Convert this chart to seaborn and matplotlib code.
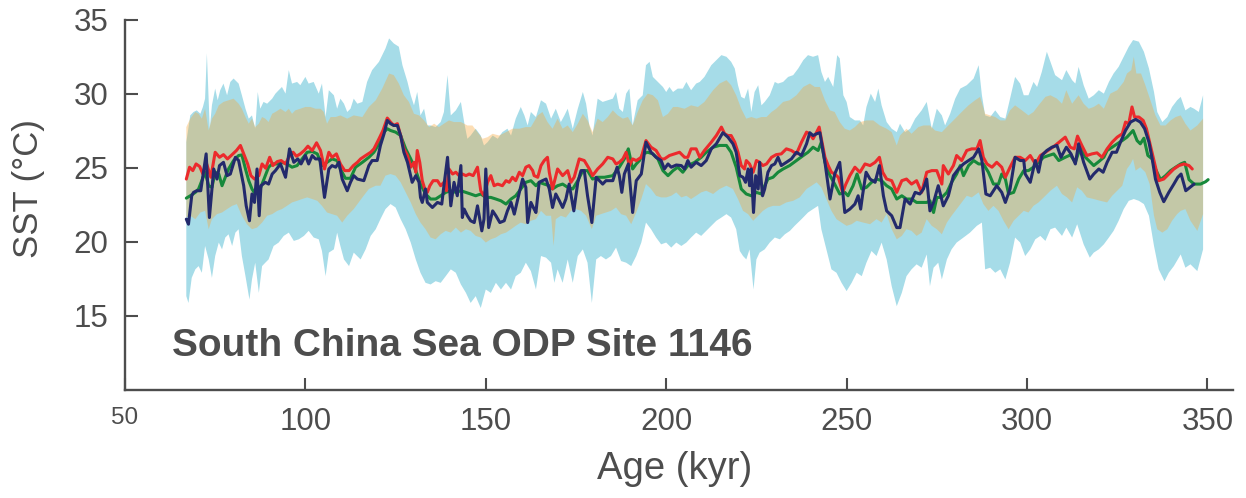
import numpy as np
import pandas as pd
import matplotlib
matplotlib.use("Agg")
import matplotlib.pyplot as plt
import seaborn as sns

# ---------------- data ----------------
red_age = [67.0, 67.9, 68.8, 69.7, 70.7, 71.6, 72.5, 73.8, 75.0, 76.2, 77.3, 78.4, 79.7, 80.9, 82.0, 83.1, 84.0, 84.9, 85.9, 87.1,
           88.0, 89.0, 90.1, 91.0, 92.2, 93.3, 94.5, 95.4, 96.6, 97.5, 98.6, 99.7, 100.7, 101.9, 103.1, 104.2, 105.3, 106.5, 107.4, 108.6,
           109.7, 110.9, 112.1, 113.3, 114.4,
           115.3, 116.7, 118.1, 119.0, 120.4, 121.5, 122.7, 123.6, 124.5, 125.5, 126.4, 127.3, 128.3, 129.2, 130.1, 130.6, 131.0, 131.7,
           132.4, 133.1, 133.8, 134.5, 135.4, 136.6, 137.5, 138.4, 139.1, 139.8, 140.8, 141.7, 142.6, 143.5, 144.5, 145.4, 146.5, 147.7,
           148.6, 149.5, 150.5, 151.4, 152.3, 153.3, 154.6, 155.6, 156.5, 157.4, 158.3, 159.3, 160.2, 161.1, 162.0, 163.0,
           163.4, 164.4, 165.3, 166.2, 167.1, 167.6, 168.5, 169.9, 171.3, 172.7, 173.6, 174.5, 175.9, 177.3, 178.7, 179.6, 181.0, 182.4,
           183.8, 185.2, 186.1, 187.0, 188.0, 188.9, 189.8, 190.7, 191.7, 193.1, 194.4, 195.8, 197.2, 198.6, 199.5, 200.9, 202.3, 203.7,
           205.1, 206.0, 206.9, 208.3, 209.3, 210.6,
           212.5, 213.9, 215.3, 216.2, 217.1, 218.0, 219.0, 219.9, 220.8, 221.7, 222.2, 223.1, 224.1, 225.0, 225.9, 226.8, 227.8, 229.2,
           230.5, 231.9, 233.3, 234.7, 236.1, 237.5, 238.9, 239.8, 240.7, 241.7, 242.4, 243.0, 244.0, 244.9, 245.8, 246.7, 247.7, 248.9,
           249.8, 250.9, 252.3, 253.7, 255.1, 256.5, 257.9, 259.1, 260.0,
           261.1, 262.5, 263.9, 265.3, 266.6, 268.0, 269.4, 270.8, 272.2, 273.6, 275.0, 276.4, 276.8, 278.2, 279.6, 280.5, 281.9, 283.3,
           284.7, 286.1, 287.0, 287.9, 288.9, 290.3, 291.6, 293.0, 294.0, 295.3, 296.7, 298.1, 299.5, 300.9, 302.3, 303.7, 305.1, 306.5,
           307.8,
           310.6, 312.0, 313.1, 314.0, 315.2, 316.6, 318.0, 319.4, 320.8, 322.2, 323.6, 325.0, 326.4, 327.3, 328.2, 329.1, 329.8, 331.0,
           332.2, 333.1, 334.2, 335.3, 336.5, 337.9, 339.3, 340.7, 342.1, 343.5, 344.9, 345.8]
red_sst = [24.25, 25.05, 24.82, 25.27, 25.1, 24.59, 25.38, 24.37, 26.06, 25.72, 25.9, 25.61, 25.9, 26.18, 26.52, 25.84, 25.27, 24.48, 24.25, 24.48,
           25.27, 24.98, 25.72, 25.16, 25.43, 25.5, 25.27, 25.72, 26.06, 25.79, 25.95, 26.18, 26.47, 26.18, 26.7, 26.18, 24.93, 26.06, 25.72, 25.95,
           25.27, 24.82, 24.82, 25.16, 25.38,
           25.61, 25.84, 26.06, 26.29, 26.97, 27.53, 28.37, 28.1, 27.87, 27.99, 27.19, 26.29, 25.84, 25.05, 25.38, 24.71, 26.18, 25.38,
           24.14, 23.58, 23.35, 23.8, 24.14, 24.14, 23.8, 24.03, 23.46, 24.93, 24.59, 24.71, 24.48, 24.59, 24.48, 24.59, 24.48, 25.05,
           23.46, 23.12, 24.03, 24.48, 23.8, 23.91, 23.8, 24.14, 24.03, 24.37, 24.14, 24.71, 24.48, 25.05, 25.16, 24.82,
           24.48, 24.37, 25.16, 25.5, 25.72, 24.71, 23.58, 24.93, 24.48, 24.82, 24.03, 24.37, 25.61, 25.5, 24.93, 24.48, 24.93, 25.27,
           25.72, 25.61, 25.27, 25.38, 25.61, 26.06, 25.16, 25.61, 25.5, 25.72, 26.85, 26.4, 26.18, 25.61, 25.61, 25.84, 25.95, 26.06,
           25.72, 25.72, 26.29, 26.29, 25.72, 26.18,
           26.74, 27.19, 27.76, 27.31, 27.19, 27.19, 26.74, 26.06, 25.16, 24.93, 25.5, 25.27, 24.71, 25.5, 25.38, 25.16, 25.27, 25.72,
           25.9, 25.95, 26.29, 26.18, 25.95, 26.74, 27.42, 27.31, 26.97, 27.42, 27.76, 26.97, 25.72, 25.16, 24.71, 24.59, 24.37, 23.35,
           23.91, 24.48, 25.05, 24.71, 25.27, 25.16, 25.38, 25.72, 24.71,
           24.25, 24.14, 23.35, 24.14, 24.25, 23.91, 24.14, 23.35, 24.71, 24.82, 24.82, 23.91, 25.16, 24.59, 25.16, 25.84, 25.5, 26.18,
           26.29, 26.29, 26.85, 25.72, 25.27, 25.05, 25.38, 25.05, 24.37, 25.05, 25.72, 25.72, 25.5, 25.84, 25.27, 25.84, 26.06, 26.29,
           26.52,
           27.08, 26.4, 26.29, 27.15, 26.52, 25.84, 25.95, 26.02, 25.72, 26.29, 26.74, 27.08, 27.31, 28.1, 27.99, 29.12, 28.44, 28.44,
           28.21, 27.65, 26.52, 25.38, 24.14, 24.25, 24.59, 24.93, 25.16, 25.27, 25.16, 24.93]

navy_age = [67.0, 67.6, 68.5, 69.0, 69.9, 71.0, 72.5, 73.4, 74.6, 75.5, 76.2, 77.3, 78.3, 79.2, 80.6, 81.5, 82.9, 83.6, 84.5, 85.2,
            85.9, 86.6, 87.2, 87.7, 88.9, 89.8, 90.8, 91.7, 93.1, 94.5, 95.6, 96.8, 97.9, 98.8, 100.0, 100.9, 101.9, 102.8, 104.0, 105.3,
            106.5, 107.4, 108.4, 109.3, 110.2, 111.6, 112.5, 113.4, 114.4,
            116.2, 117.6, 118.5, 119.9, 120.8, 121.8, 122.7, 123.6, 124.5, 125.5, 126.4, 127.3, 128.3, 129.6, 130.6, 131.5, 131.9, 132.4,
            133.3, 133.8, 135.2, 136.6, 137.8, 138.4, 139.4, 140.3, 141.2, 142.1, 143.1, 143.5, 144.0, 144.9, 145.8, 146.8, 147.7, 148.9,
            149.5, 150.0, 150.8, 151.9, 152.8, 153.9, 155.1, 156.0, 157.0, 157.9, 159.3, 160.2, 161.1, 161.6, 162.5, 163.4,
            163.9, 164.8, 165.7, 166.7, 167.6, 168.5, 169.4, 170.4, 171.3, 172.2, 173.1, 174.4, 175.5, 176.4, 177.3, 178.2, 179.4, 180.6,
            181.5, 182.4, 183.3, 185.2, 186.4, 187.0, 187.7, 188.4, 189.5, 190.7, 191.7, 193.1, 194.4, 195.8, 197.2, 198.6, 199.5, 200.5,
            201.4, 202.8, 204.2, 205.1, 206.0, 206.9, 208.3, 209.7, 211.1,
            212.5, 213.9, 215.7, 217.1, 218.5, 219.4, 220.4, 221.3, 222.0, 222.7, 223.1, 223.6, 224.2, 224.8, 225.5, 225.9, 226.7, 227.3,
            228.2, 229.2, 230.1, 231.0, 231.9, 233.3, 234.7, 236.1, 237.5, 238.9, 239.8, 240.7, 241.7, 242.6, 244.0, 245.4, 246.7, 248.1,
            249.5, 250.9, 252.3, 253.2, 253.9, 254.4, 255.4, 256.5, 257.9, 259.1, 260.2,
            261.1, 262.5, 263.9, 264.8, 266.2, 267.6, 269.0, 270.3, 271.3, 272.2, 273.1, 274.1, 275.4, 276.8, 278.2, 279.6, 281.0, 282.4,
            283.8, 285.2, 286.6, 287.5, 288.6, 289.8, 291.6, 293.0, 294.0, 295.3, 296.7, 298.1, 299.1, 299.5, 300.9, 302.3, 303.2, 304.1,
            305.5, 306.9, 308.3,
            309.4, 310.9, 312.2, 313.4, 314.3, 315.7, 317.4, 318.5, 319.9, 321.1, 322.2, 323.6, 324.8, 325.9, 327.3, 328.7, 330.1, 331.4,
            332.6, 333.8, 334.7, 335.6, 336.8, 337.9, 339.3, 340.7, 341.8, 342.7, 344.0, 345.2, 346.3]
navy_sst = [21.54, 21.2, 23.12, 23.35, 23.46, 23.46, 25.95, 21.65, 24.93, 24.25, 25.16, 25.38, 24.48, 24.59, 25.72, 25.5, 23.8, 22.44, 21.43, 23.24,
            22.67, 24.93, 21.77, 23.8, 24.03, 23.91, 24.59, 24.82, 25.27, 24.37, 26.29, 25.38, 25.61, 25.27, 25.84, 25.27, 25.84, 25.61, 25.61, 23.01,
            24.93, 25.16, 25.05, 25.38, 24.25, 23.46, 24.03, 24.48, 24.25,
            24.14, 25.16, 25.5, 25.5, 26.52, 27.31, 28.21, 27.99, 27.87, 27.87, 27.19, 26.06, 25.38, 24.03, 24.48, 24.03, 23.01, 22.67,
            23.58, 22.67, 22.33, 22.67, 22.56, 23.8, 25.72, 22.44, 24.03, 23.12, 25.16, 21.65, 22.22, 21.77, 21.43, 21.31, 22.44, 20.75,
            21.54, 24.93, 20.97, 22.1, 21.77, 21.31, 21.43, 22.1, 22.67, 21.88, 23.35, 24.25, 23.69, 21.31, 22.67, 22.22,
            21.99, 24.03, 24.14, 24.25, 23.58, 22.33, 23.24, 22.78, 22.33, 22.9, 23.91, 22.1, 24.03, 24.82, 24.82, 23.12, 21.31, 24.37,
            24.14, 23.91, 24.14, 24.14, 25.05, 24.48, 23.35, 24.59, 25.27, 21.99, 24.14, 24.59, 26.74, 26.06, 25.72, 25.5, 24.93, 25.27,
            25.05, 25.2, 25.16, 24.93, 25.5, 25.05, 25.38, 25.16, 25.5,
            26.29, 26.63, 27.38, 27.08, 26.63, 26.06, 24.48, 24.37, 24.03, 24.93, 23.8, 24.93, 21.99, 24.48, 23.58, 25.38, 23.12, 23.58,
            24.71, 25.16, 25.27, 25.72, 25.16, 25.38, 25.61, 26.06, 25.84, 26.63, 27.38, 27.19, 27.31, 27.38, 25.38, 22.9, 24.59, 25.38,
            21.99, 22.22, 22.56, 23.12, 22.22, 23.12, 24.71, 24.25, 24.03, 25.16, 23.12,
            22.1, 21.77, 20.97, 20.97, 22.9, 22.56, 23.35, 23.24, 23.58, 24.25, 22.1, 22.67, 23.8, 22.44, 23.12, 24.48, 24.93, 25.27,
            25.5, 25.72, 26.29, 25.5, 23.24, 23.12, 23.8, 23.35, 22.67, 23.58, 25.72, 25.5, 25.5, 24.59, 24.03, 25.5, 24.71, 25.84,
            26.18, 26.4, 26.52,
            25.72, 26.4, 25.95, 25.27, 26.63, 25.38, 24.25, 24.59, 24.93, 24.71, 25.38, 26.06, 26.06, 26.74, 27.53, 28.1, 28.28, 28.1,
            27.65, 26.74, 25.61, 24.25, 23.35, 22.72, 23.35, 23.91, 24.37, 24.59, 23.46, 23.69, 23.91]

green_age = [67.0, 68.1, 69.5, 70.4, 71.3, 72.2, 73.2, 74.1, 75.0, 76.0, 76.9, 77.8, 78.7, 80.1, 81.5, 82.4, 83.4, 84.3, 85.2, 86.1,
             87.1, 88.0, 88.9, 89.8, 90.8, 92.2, 93.5, 94.9, 96.3, 97.7, 99.1, 100.5, 101.9, 103.3, 104.6, 106.0, 107.4, 108.8, 109.7, 111.1,
             112.5, 113.9,
             115.8, 117.6, 119.0, 120.4, 121.8, 122.7, 123.6, 125.0, 126.4, 127.8, 129.2, 130.6, 131.9, 133.3, 134.7, 136.1, 137.5, 138.9,
             140.3, 141.7, 143.1, 144.5, 145.8, 147.2, 148.6, 150.0, 151.4, 152.8, 154.2, 155.6, 157.0, 158.3, 159.7, 161.1, 162.5,
             163.9, 164.8, 166.2, 167.6, 168.5, 169.9, 171.3, 172.7, 174.1, 175.5, 176.9, 178.2, 179.6, 181.0, 182.9, 185.2, 187.0, 188.4,
             189.5, 190.7, 191.7, 192.6, 193.5, 194.9, 196.3, 197.7, 199.1, 200.5, 201.9, 203.2, 204.6, 206.0, 207.9, 209.7, 211.1,
             213.0, 214.8, 216.7, 218.0, 219.4, 220.8, 222.2, 223.6, 225.0, 226.4, 227.3, 228.2, 229.6, 231.0, 232.4, 234.2, 236.1, 238.0,
             239.3, 240.7, 242.1, 243.0, 244.0, 245.4, 246.7, 248.1, 249.5, 250.4, 251.8, 252.9, 254.2, 255.5, 256.9, 258.3, 259.7,
             261.1, 262.5, 263.9, 265.3, 266.6, 268.0, 269.4, 270.8, 272.2, 273.1, 274.1, 275.0, 276.4, 277.8, 279.1, 280.5, 281.5, 282.4,
             283.8, 285.2, 286.6, 287.9, 289.3, 290.7, 292.1, 293.0, 294.0, 294.9, 296.3, 297.7, 299.1, 300.4, 301.8, 303.2, 304.6, 306.0,
             307.4, 308.8,
             310.6, 312.0, 313.4, 314.8, 316.2, 317.6, 318.5, 319.9, 321.3, 322.2, 323.6, 325.0, 326.4, 327.7, 329.4, 330.5, 331.4, 332.4,
             333.5, 334.7, 335.6, 337.0, 338.4, 339.8, 341.2, 342.6, 343.7, 344.9, 346.3, 348.1, 349.5, 350.2]
green_sst = [22.96, 23.12, 23.35, 23.58, 24.14, 24.71, 23.8, 23.69, 24.71, 24.59, 23.8, 24.37, 24.93, 25.5, 25.84, 25.88, 24.93, 24.14, 23.58, 23.24,
             23.35, 23.91, 24.48, 25.05, 25.27, 25.27, 25.38, 25.27, 25.05, 25.16, 25.61, 26.06, 26.11, 25.95, 25.16, 25.38, 25.61, 25.5, 24.93, 24.3,
             24.3, 25.05,
             25.38, 25.72, 26.06, 26.63, 27.42, 27.65, 27.53, 27.42, 27.19, 26.29, 25.61, 24.82, 23.91, 23.24, 22.9, 22.9, 23.12, 23.35,
             23.46, 23.35, 23.46, 23.35, 23.24, 23.12, 23.24, 23.01, 23.01, 22.9, 22.78, 22.56, 22.9, 23.12, 23.58, 24.03, 24.14,
             23.8, 24.03, 23.91, 23.8, 23.58, 23.8, 23.91, 23.69, 23.58, 24.14, 24.82, 24.82, 24.25, 24.37, 24.37, 24.48, 25.05, 25.61,
             26.29, 24.93, 25.27, 25.5, 25.95, 26.06, 25.95, 25.61, 24.82, 24.48, 24.82, 25.05, 24.71, 25.16, 25.38, 25.72, 26.06,
             26.4, 26.52, 26.52, 26.06, 25.05, 23.58, 23.24, 23.12, 23.35, 23.24, 23.8, 24.25, 24.37, 24.71, 24.93, 25.16, 25.5, 25.84,
             26.06, 26.4, 26.18, 26.74, 25.38, 24.48, 23.91, 23.24, 23.35, 23.12, 23.8, 24.59, 23.58, 23.69, 24.03, 24.25, 24.14,
             23.8, 23.58, 22.9, 23.12, 22.9, 22.9, 22.67, 22.67, 22.67, 22.78, 21.99, 23.01, 23.01, 23.35, 24.03, 24.59, 25.16, 24.48,
             25.16, 25.5, 25.27, 25.27, 24.71, 23.91, 23.91, 24.59, 24.25, 23.24, 23.35, 24.25, 24.82, 24.82, 25.05, 25.38, 25.72, 25.84,
             25.95, 25.5,
             25.72, 25.88, 25.38, 26.4, 25.72, 25.38, 25.16, 25.43, 25.72, 26.18, 26.4, 26.63, 26.85, 27.08, 27.53, 26.85, 26.63, 27.01,
             25.84, 25.61, 24.93, 24.21, 24.48, 24.82, 25.05, 25.27, 25.38, 24.21, 23.91, 23.91, 24.07, 24.21]

outer_top_age = [67.0, 68.1, 69.0, 69.9, 70.9, 71.6, 72.2, 72.7, 73.5, 74.1, 75.0, 75.7, 76.4, 77.3, 78.3, 79.2, 80.1, 81.5, 82.4, 83.4,
                 84.3, 85.2, 86.1, 86.8, 87.5, 88.4, 89.4, 90.8, 91.7, 92.6, 93.5, 94.5, 95.4, 96.3, 97.7, 98.6, 100.0, 100.9, 102.3, 103.7,
                 104.6, 105.6, 106.5, 107.9, 108.8, 109.7, 110.7, 111.6, 112.5, 113.4, 114.4,
                 115.8, 117.1, 118.5, 120.4, 122.2, 123.2, 124.5, 125.9, 126.9, 128.3, 129.2, 130.1, 131.0, 131.9, 132.9, 133.8, 134.7, 136.1,
                 137.5, 138.4, 139.4, 140.3, 141.7, 143.1, 144.0, 144.9, 145.8, 147.2, 148.6, 149.5, 150.5, 151.9, 153.3, 154.6, 156.0, 157.0,
                 158.3, 159.7, 160.7, 161.6, 162.5,
                 163.9, 165.3, 166.7, 168.1, 169.4, 170.8, 171.8, 172.7, 174.1, 175.5, 176.9, 177.8, 178.7, 179.6, 181.0, 182.4, 183.8, 185.2,
                 186.1, 187.0, 188.0, 188.9, 189.8, 190.7, 192.1, 193.5, 194.4, 195.4, 196.3, 197.7, 199.1, 200.0, 200.9, 201.9, 203.2, 204.6,
                 205.6, 206.9, 208.3, 209.3, 210.6,
                 212.5, 213.9, 215.3, 216.7, 218.0, 219.0, 219.9, 220.8, 221.7, 222.7, 223.6, 224.5, 225.5, 226.4, 227.3, 228.7, 230.1, 231.0,
                 232.4, 233.8, 235.2, 236.6, 238.0, 239.3, 240.7, 242.1, 243.0, 244.0, 244.9, 246.3, 247.4, 248.1, 249.1, 250.0, 250.9, 252.3,
                 253.7, 254.6, 255.5, 256.7, 257.9, 258.8, 259.7,
                 261.1, 262.5, 263.9, 264.8, 266.2, 267.6, 269.0, 270.8, 272.2, 273.6, 275.0, 276.4, 277.3, 278.7, 280.1, 281.5, 283.3, 285.2,
                 286.6, 287.5, 288.4, 289.8, 291.2, 292.6, 294.0, 295.3, 296.7, 298.1, 299.1, 300.4, 301.8, 302.8, 304.1, 305.5, 306.5, 307.8,
                 309.7, 310.9, 312.5, 313.4, 314.3, 315.7, 317.1, 318.5, 319.9, 321.3, 322.7, 324.0, 325.4, 326.8, 328.2, 329.4, 331.0, 332.4,
                 333.8, 335.2, 336.1, 337.5, 338.9, 340.2, 341.6, 342.6, 343.9, 345.3, 346.3, 347.6, 348.8]
outer_top = [26.74, 28.55, 28.78, 28.89, 28.66, 29.12, 29.68, 32.74, 27.65, 29.23, 30.36, 29.57, 30.25, 30.7, 29.91, 30.81, 31.04, 30.7, 29.91, 29.0,
             28.33, 28.55, 27.65, 30.13, 29.0, 29.46, 29.34, 29.68, 30.02, 30.25, 30.47, 30.02, 31.61, 30.7, 30.81, 30.59, 31.15, 30.7, 30.81, 30.02,
             30.7, 28.44, 30.25, 29.91, 29.0, 29.68, 29.34, 28.78, 29.0, 29.68, 29.34,
             29.46, 30.81, 31.61, 32.17, 33.07, 33.75, 33.41, 33.19, 31.94, 30.81, 29.91, 29.23, 30.13, 28.55, 29.0, 27.87, 27.87, 27.76,
             28.1, 28.78, 31.27, 28.55, 28.89, 29.46, 28.1, 26.97, 27.19, 27.65, 27.19, 26.52, 26.74, 27.19, 26.97, 27.42, 27.65, 27.19,
             28.33, 29.12, 28.55, 27.87, 28.78,
             28.44, 29.57, 29.34, 28.33, 29.0, 28.1, 28.55, 29.0, 27.65, 29.0, 30.13, 29.34, 27.87, 27.19, 29.68, 29.46, 29.57, 29.68,
             30.13, 29.0, 28.78, 30.02, 30.36, 27.87, 29.57, 29.91, 31.94, 32.17, 31.15, 30.81, 30.47, 30.13, 30.47, 30.13, 30.36, 30.36,
             30.81, 30.25, 30.7, 30.81, 31.15,
             31.94, 32.28, 32.62, 32.51, 32.17, 31.72, 30.59, 29.8, 29.68, 30.36, 28.78, 30.13, 30.59, 29.23, 29.46, 29.91, 30.81, 30.7,
             30.81, 31.15, 31.27, 31.72, 32.28, 32.62, 32.51, 32.62, 31.49, 30.81, 31.15, 30.47, 32.62, 32.4, 29.91, 29.46, 28.44, 28.21,
             28.21, 27.87, 29.12, 30.02, 29.46, 30.36, 29.23,
             28.1, 27.65, 27.42, 27.99, 27.42, 27.65, 28.33, 28.89, 29.46, 27.65, 29.0, 28.55, 27.87, 28.66, 29.68, 30.36, 30.59, 31.04,
             31.94, 29.91, 28.55, 28.44, 28.89, 28.44, 28.33, 29.68, 31.15, 30.7, 29.91, 29.91, 30.81, 30.47, 31.49, 32.85, 32.17, 31.27,
             30.93, 31.61, 30.93, 30.7, 31.83, 30.59, 29.68, 29.91, 30.25, 30.02, 30.81, 31.38, 31.83, 32.51, 33.19, 33.64, 33.53, 32.85,
             31.72, 30.13, 28.78, 28.1, 28.44, 29.12, 29.57, 29.8, 28.89, 29.12, 29.0, 28.78, 29.91]

outer_bot_age = [67.0, 67.6, 68.5, 69.5, 70.4, 71.3, 72.2, 73.2, 74.1, 75.0, 76.0, 76.9, 77.8, 78.7, 79.7, 80.6, 81.5, 82.4, 83.4, 84.5,
                 85.2, 86.1, 87.1, 88.0, 88.9, 89.8, 91.2, 92.6, 94.0, 95.4, 96.8, 98.2, 99.6, 100.9, 102.3, 103.7, 104.6, 105.6, 106.5, 107.9,
                 108.8, 109.7, 110.7, 112.1, 113.4,
                 115.3, 116.7, 118.1, 119.5, 120.8, 122.2, 123.6, 125.0, 126.4, 127.8, 129.2, 130.6, 131.9, 133.3, 134.7, 136.1, 137.5, 138.9,
                 140.3, 141.7, 143.1, 144.5, 145.8, 147.2, 148.6, 150.0, 151.4, 152.8, 154.2, 155.6, 157.0, 158.3, 159.7, 161.1, 162.5,
                 163.9, 165.3, 166.7, 168.1, 169.0, 169.9, 171.3, 172.7, 174.1, 175.5, 176.9, 178.2, 179.4, 180.6, 181.9, 183.3, 184.7, 186.1,
                 187.5, 188.9, 190.3, 191.7, 193.1, 194.4, 195.8, 197.2, 198.6, 200.0, 201.4, 202.8, 204.2, 205.6, 206.9, 208.3, 209.7, 211.1,
                 212.5, 213.9, 215.3, 216.7, 218.0, 219.4, 220.4, 221.3, 222.2, 223.1, 224.2, 225.0, 225.9, 227.3, 228.7, 230.1, 231.5, 232.9,
                 234.3, 235.6, 237.5, 239.3, 240.7, 242.1, 243.0, 244.4, 245.8, 247.2, 248.6, 250.0, 251.4, 252.8, 254.2, 255.5, 256.9, 258.3,
                 259.7,
                 261.1, 262.5, 263.9, 265.3, 266.6, 268.0, 269.4, 270.8, 272.2, 273.1, 274.1, 275.4, 276.4, 277.8, 279.1, 280.5, 282.4, 284.2,
                 286.1, 287.5, 288.4, 289.8, 291.2, 292.6, 294.0, 295.3, 296.7, 298.1, 299.5, 300.9, 302.3, 303.7, 305.1, 306.5, 307.8,
                 309.7, 310.9, 312.5, 313.9, 315.7, 317.4, 318.5, 319.9, 321.3, 322.7, 324.0, 325.4, 326.8, 328.2, 329.6, 331.0, 332.4, 333.8,
                 335.2, 336.5, 338.1, 339.3, 340.7, 342.6, 343.9, 345.3, 347.2, 348.8]
outer_bot = [16.34, 15.88, 17.58, 18.15, 18.37, 17.92, 19.73, 18.82, 17.58, 19.05, 19.96, 19.5, 20.3, 20.52, 19.73, 20.63, 20.86, 19.05, 17.69, 16.11,
             17.47, 18.6, 16.56, 18.37, 18.6, 18.82, 19.73, 19.96, 20.41, 20.63, 20.07, 20.18, 20.41, 20.75, 20.3, 20.18, 19.39, 17.69, 19.28, 19.5,
             20.63, 19.73, 18.82, 18.37, 19.28,
             18.82, 19.5, 20.41, 20.86, 21.54, 22.22, 22.56, 22.33, 21.54, 20.86, 19.96, 18.82, 17.92, 17.24, 17.13, 17.35, 17.24, 17.69,
             18.15, 17.92, 17.13, 16.56, 15.88, 16.34, 15.54, 16.79, 16.56, 17.24, 16.79, 17.24, 16.79, 17.69, 17.92, 18.6, 18.03,
             16.79, 19.05, 18.94, 18.6, 17.24, 18.15, 17.24, 18.82, 17.24, 19.05, 19.5, 18.6, 15.88, 18.82, 19.05, 18.82, 19.05, 19.62,
             18.71, 18.6, 18.37, 19.05, 19.96, 21.31, 20.86, 20.3, 19.84, 19.96, 19.62, 19.96, 19.73, 19.96, 20.3, 20.63, 20.41, 20.75,
             21.09, 21.43, 21.65, 21.88, 21.65, 20.86, 19.39, 19.05, 18.82, 19.5, 16.79, 18.82, 19.28, 19.5, 19.96, 20.3, 20.18, 20.52,
             20.75, 21.09, 21.54, 21.99, 22.22, 22.44, 20.86, 19.5, 18.15, 17.92, 17.24, 16.68, 17.24, 17.92, 17.69, 18.6, 19.39, 19.05,
             19.96,
             18.82, 17.01, 15.66, 16.56, 17.69, 18.15, 18.49, 18.26, 19.16, 17.01, 18.26, 18.6, 17.47, 18.82, 19.5, 19.96, 20.3, 20.63,
             21.09, 21.31, 18.15, 18.26, 17.92, 18.15, 17.47, 18.6, 20.3, 19.96, 19.05, 19.5, 20.18, 20.41, 20.07, 20.86, 20.97,
             20.41, 20.97, 20.3, 21.2, 19.84, 18.94, 19.28, 19.5, 19.84, 20.3, 20.75, 21.43, 22.22, 22.78, 22.9, 22.78, 22.56, 21.77,
             19.73, 18.15, 17.35, 17.92, 18.37, 19.16, 18.26, 18.49, 18.03, 19.5]

inner_top_age = [67.0, 68.1, 69.5, 70.4, 71.3, 72.2, 73.2, 74.1, 75.0, 76.0, 77.3, 78.7, 80.1, 81.5, 82.4, 83.4, 84.3, 85.2, 86.1, 87.1,
                 88.0, 88.9, 89.8, 90.8, 91.7, 93.1, 94.5, 95.4, 96.3, 97.2, 98.6, 100.0, 101.4, 102.8, 104.2, 105.1, 106.0, 107.0, 108.4, 109.7,
                 111.6, 113.4,
                 115.8, 117.6, 119.5, 121.3, 123.2, 124.5, 125.9, 127.3, 128.7, 130.1, 131.5, 132.9, 134.3, 135.7, 137.0, 138.4, 139.8, 141.2,
                 143.1, 144.9, 146.3, 147.7, 149.1, 150.5, 151.9, 153.7, 155.6, 157.4, 159.3, 161.1, 162.5,
                 164.4, 165.7, 167.1, 168.5, 169.9, 171.3, 172.7, 174.1, 175.5, 176.9, 178.2, 179.6, 181.0, 182.4, 183.8, 185.2, 186.6, 188.0,
                 189.4, 190.7, 192.1, 193.5, 194.9, 196.3, 197.7, 199.1, 200.5, 201.9, 203.2, 205.1, 206.9, 208.8, 210.6,
                 213.0, 214.8, 216.7, 218.0, 219.4, 220.8, 222.2, 223.6, 225.0, 226.4, 227.8, 229.2, 230.5, 232.4, 234.2, 236.1, 238.0, 239.8,
                 241.2, 242.6, 244.0, 245.4, 246.7, 248.1, 249.5, 250.9, 252.3, 253.7, 255.5, 257.4, 259.2,
                 261.1, 262.5, 263.9, 264.8, 266.6, 268.0, 269.9, 271.3, 273.1, 274.5, 276.4, 278.2, 280.1, 281.9, 283.8, 285.6, 287.0, 288.4,
                 289.8, 291.2, 292.6, 294.0, 295.3, 296.7, 298.6, 300.4, 301.8, 303.2, 305.1, 306.5, 308.3,
                 309.7, 310.9, 312.5, 314.3, 315.7, 317.1, 318.5, 319.9, 321.3, 323.1, 325.0, 326.8, 327.7, 328.9, 329.6, 330.3, 331.6, 332.8,
                 334.2, 335.6, 337.0, 338.4, 339.8, 341.2, 342.6, 343.9, 345.3, 347.2, 348.8]
inner_top = [27.76, 28.33, 28.78, 28.66, 28.33, 29.0, 27.53, 28.33, 28.66, 29.23, 29.46, 29.57, 29.68, 29.34, 29.0, 28.44, 27.99, 28.33, 27.76, 27.99,
             28.44, 28.33, 28.1, 28.66, 28.78, 29.0, 28.78, 29.0, 28.66, 28.89, 29.0, 29.12, 29.12, 29.0, 29.0, 28.78, 27.99, 28.44, 28.44, 28.55,
             28.33, 28.55,
             28.44, 29.12, 29.57, 30.36, 31.38, 31.27, 30.7, 29.91, 29.46, 28.66, 28.55, 28.21, 27.76, 27.99, 27.76, 27.99, 28.21, 28.1,
             28.1, 27.87, 27.87, 27.42, 26.97, 27.08, 27.31, 27.19, 27.42, 27.65, 27.65, 27.76, 27.76,
             28.55, 28.78, 28.1, 27.65, 28.33, 27.65, 27.87, 27.42, 27.99, 28.66, 28.21, 27.42, 28.33, 28.1, 28.44, 28.89, 28.55, 28.33,
             28.44, 27.87, 28.78, 29.57, 30.02, 29.91, 29.57, 28.44, 28.66, 29.12, 29.12, 29.0, 29.23, 29.12, 29.46,
             30.25, 30.7, 30.93, 30.59, 29.91, 29.0, 28.33, 28.44, 28.33, 28.44, 28.44, 28.78, 29.0, 29.46, 29.57, 29.91, 30.47, 30.7,
             30.47, 30.47, 29.57, 28.89, 28.78, 28.1, 27.65, 27.53, 27.76, 28.1, 28.21, 28.21, 27.87,
             27.65, 27.42, 26.52, 27.19, 27.65, 27.31, 27.76, 27.87, 27.87, 27.53, 27.42, 27.87, 28.33, 28.78, 29.23, 29.57, 29.8, 28.66,
             28.55, 28.44, 28.21, 28.21, 28.89, 29.23, 28.89, 28.55, 28.78, 29.23, 29.8, 29.91, 29.68,
             29.34, 30.25, 29.34, 29.91, 29.34, 29.0, 29.12, 29.34, 29.0, 30.02, 30.25, 30.81, 31.38, 31.61, 32.51, 31.38, 31.38, 30.59,
             29.57, 28.55, 27.87, 27.87, 28.21, 28.44, 28.55, 27.99, 27.53, 27.87, 28.33]

inner_bot_age = [67.0, 68.1, 69.5, 70.9, 72.2, 73.2, 74.1, 75.5, 76.9, 78.3, 79.7, 81.0, 82.4, 83.8, 85.2, 86.6, 88.0, 89.4, 90.8, 92.2,
                 93.5, 94.9, 96.3, 97.7, 99.1, 100.5, 101.9, 103.3, 104.6, 106.0, 107.4, 108.8, 110.2, 111.6, 113.4,
                 115.8, 117.6, 119.5, 120.8, 122.2, 123.6, 125.0, 126.4, 127.8, 129.2, 130.6, 131.9, 133.3, 134.7, 136.1, 137.5, 138.9, 140.3,
                 141.7, 143.1, 144.5, 145.8, 147.2, 148.6, 150.0, 151.4, 152.8, 154.2, 155.6, 157.0, 158.3, 159.7, 161.1, 162.5,
                 163.9, 165.3, 166.7, 168.1, 168.8, 169.4, 170.8, 172.2, 173.6, 175.0, 176.4, 177.8, 179.4, 180.6, 181.9, 183.3, 184.7, 186.1,
                 187.5, 188.9, 190.3, 191.7, 193.1, 194.4, 195.8, 197.2, 198.6, 200.0, 201.4, 202.8, 204.2, 205.6, 206.9, 208.3, 209.7, 211.1,
                 213.0, 214.8, 216.7, 218.5, 219.9, 221.3, 222.7, 224.1, 225.5, 226.8, 228.2, 229.6, 231.5, 233.3, 235.2, 237.0, 238.9, 240.3,
                 241.7, 243.0, 244.4, 245.8, 247.2, 248.6, 250.0, 251.4, 252.8, 254.6, 256.5, 258.3, 259.7,
                 261.1, 262.5, 263.9, 265.3, 266.6, 268.0, 269.4, 270.8, 272.2, 273.6, 275.0, 276.4, 277.8, 279.1, 280.5, 281.9, 283.3, 284.7,
                 286.6, 287.9, 289.3, 290.7, 292.1, 293.5, 294.9, 296.3, 297.7, 299.1, 300.4, 301.8, 303.2, 305.1, 306.5, 308.3,
                 309.7, 311.1, 312.5, 313.9, 315.2, 316.6, 318.5, 320.3, 322.2, 323.6, 325.0, 326.4, 327.7, 328.7, 329.4, 330.1, 331.4, 332.8,
                 334.0, 335.2, 336.1, 337.5, 338.9, 340.2, 341.6, 342.6, 343.9, 345.3, 347.2, 348.8]
inner_bot = [21.65, 21.77, 21.54, 21.99, 22.1, 20.86, 21.54, 21.88, 21.99, 22.22, 22.44, 22.56, 21.77, 21.2, 20.86, 20.97, 21.31, 21.77, 21.88, 22.1,
             22.22, 22.44, 22.67, 22.78, 22.9, 23.01, 22.9, 22.78, 22.44, 21.99, 21.88, 21.77, 21.31, 21.77, 22.22,
             23.01, 23.58, 23.8, 23.8, 24.48, 24.59, 24.48, 24.03, 23.35, 22.67, 21.88, 21.31, 20.86, 20.3, 20.18, 20.52, 20.75, 20.63,
             20.97, 20.63, 20.86, 20.75, 20.41, 20.3, 19.96, 20.18, 20.3, 20.52, 20.63, 20.86, 21.09, 21.31, 21.2, 21.43,
             21.54, 22.1, 21.77, 21.77, 19.73, 21.54, 21.77, 21.65, 22.1, 22.22, 22.1, 21.77, 20.86, 21.77, 21.88, 21.99, 22.1, 22.33,
             21.88, 21.77, 21.2, 21.99, 22.9, 23.91, 23.58, 23.12, 23.01, 23.01, 23.12, 23.35, 23.01, 23.12, 22.9, 23.12, 23.35, 23.46,
             23.24, 23.58, 23.8, 23.58, 22.9, 22.1, 21.88, 21.43, 21.77, 22.1, 22.33, 22.44, 22.44, 22.67, 22.78, 23.01, 23.58, 23.8,
             24.03, 23.69, 22.9, 22.1, 21.54, 21.31, 21.09, 21.2, 21.43, 21.31, 21.2, 21.54, 21.31,
             21.88, 20.86, 20.18, 20.41, 20.86, 20.75, 20.41, 20.63, 21.54, 21.09, 20.86, 20.52, 21.31, 21.77, 22.22, 22.67, 23.12, 23.01,
             23.35, 22.56, 22.1, 22.44, 22.1, 21.43, 20.86, 21.43, 21.77, 22.1, 21.99, 22.44, 22.67, 23.12, 23.46, 23.8,
             23.24, 23.01, 22.67, 23.69, 23.46, 23.01, 22.9, 22.78, 22.67, 23.12, 23.46, 23.8, 24.93, 25.27, 25.61, 24.82, 25.05, 24.71,
             23.91, 21.77, 20.86, 20.63, 20.86, 21.43, 21.88, 22.1, 22.22, 21.43, 20.75, 21.88]

x_ticks = [50, 100, 150, 200, 250, 300, 350]
y_ticks = [15, 20, 25, 30, 35]
site_label = "South China Sea ODP Site 1146"

# ---------------- style ----------------
sns.set_theme(style="white")
plt.rcParams['font.family'] = ['Liberation Sans', 'DejaVu Sans']
GRAY = "#4d4d4d"

fig = plt.figure(figsize=(12.46, 4.98), dpi=100)
ax = fig.add_axes([0.1003, 0.2169, 0.889, 0.7431])

# uncertainty envelopes
ax.fill(np.concatenate([outer_top_age, outer_bot_age[::-1]]),
        np.concatenate([outer_top, outer_bot[::-1]]),
        color="#a6dce8", linewidth=0, zorder=1)
ax.fill(np.concatenate([inner_top_age, inner_bot_age[::-1]]),
        np.concatenate([inner_top, inner_bot[::-1]]),
        color="#f9a634", alpha=0.36, linewidth=0, zorder=2)

lw = 2.2
sns.lineplot(x=green_age, y=green_sst, ax=ax, color="#17893b", lw=lw, estimator=None, sort=False, zorder=3)
sns.lineplot(x=red_age, y=red_sst, ax=ax, color="#ec2a2c", lw=lw, estimator=None, sort=False, zorder=4)
sns.lineplot(x=navy_age, y=navy_sst, ax=ax, color="#232a6c", lw=lw, estimator=None, sort=False, zorder=5)

ax.set_xlim(50, 357)
ax.set_ylim(10, 35)
ax.set_xticks(x_ticks)
ax.set_yticks(y_ticks)
ax.set_xticklabels([str(v) for v in x_ticks])
ax.set_yticklabels([str(v) for v in y_ticks])

for s in ["top", "right"]:
    ax.spines[s].set_visible(False)
for s in ["left", "bottom"]:
    ax.spines[s].set_color(GRAY)
    ax.spines[s].set_linewidth(1.7)

ax.tick_params(axis="both", which="major", bottom=True, left=True, direction="in",
               length=9, width=1.5, color=GRAY, labelsize=22.5, labelcolor=GRAY)
ax.tick_params(axis="x", pad=12)
ax.tick_params(axis="y", pad=12)
ax.get_xticklabels()[0].set_fontsize(17.5)

ax.set_xlabel("Age (kyr)", fontsize=27.5, color=GRAY)
ax.set_ylabel("SST (°C)", fontsize=25, color=GRAY)
ax.xaxis.set_label_coords(0.496, -0.165)
ax.yaxis.set_label_coords(-0.072, 0.545)

ax.text(0.0424, 0.12, site_label, transform=ax.transAxes, fontsize=28,
        fontweight="bold", color=GRAY, ha="left", va="center", zorder=6)

fig.savefig("out.png", dpi=100)
